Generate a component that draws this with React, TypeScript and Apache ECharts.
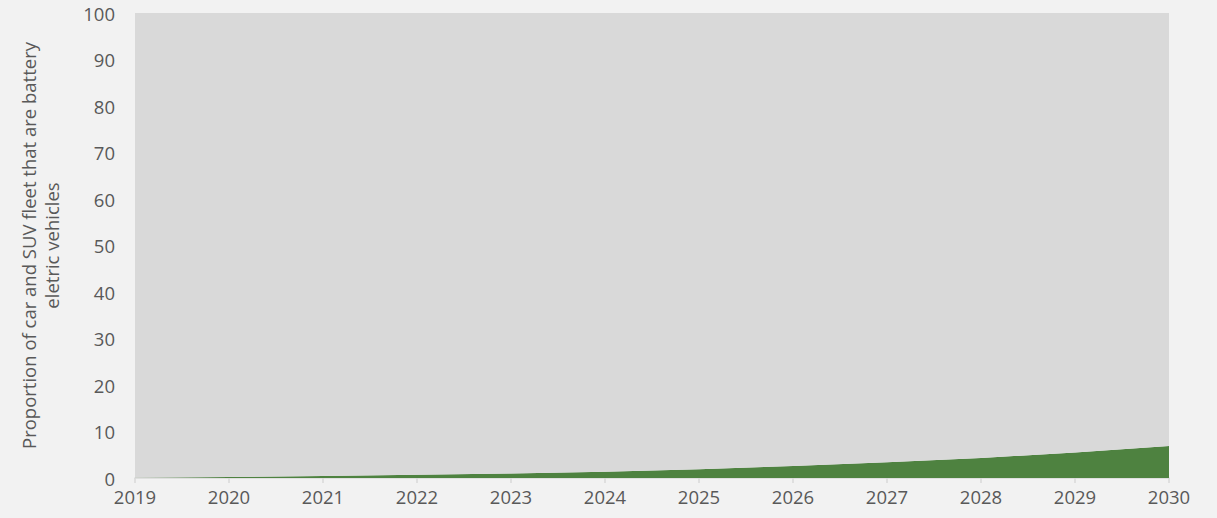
import React, { useEffect, useRef } from "react";
import * as echarts from "echarts";

const years = ["2019", "2020", "2021", "2022", "2023", "2024", "2025", "2026", "2027", "2028", "2029", "2030"];
const bevShare = [0.05, 0.2, 0.45, 0.7, 0.95, 1.35, 1.9, 2.6, 3.4, 4.3, 5.5, 6.9];
const remainder = bevShare.map((v) => +(100 - v).toFixed(2));
const yAxisTitle = "Proportion of car and SUV fleet that are battery\neletric vehicles";

export default function App() {
  const ref = useRef<HTMLDivElement>(null);
  useEffect(() => {
    const chart = echarts.init(ref.current!, null, { renderer: "svg" });
    chart.setOption({
      animation: false,
      backgroundColor: "#f2f2f2",
      textStyle: { fontFamily: "Open Sans" },
      grid: { left: 135, right: 48, top: 13, bottom: 40 },
      xAxis: {
        type: "category",
        data: years,
        boundaryGap: false,
        axisLine: { lineStyle: { color: "#d9d9d9", width: 1.5 } },
        axisTick: { show: true, length: 5, lineStyle: { color: "#d9d9d9", width: 1.5 } },
        axisLabel: { color: "#595959", fontSize: 18.5, margin: 9, fontFamily: "Open Sans" },
        splitLine: { show: false },
      },
      yAxis: {
        type: "value",
        min: 0,
        max: 100,
        interval: 10,
        name: yAxisTitle,
        nameLocation: "middle",
        nameGap: 72,
        nameRotate: 90,
        nameTextStyle: { color: "#595959", fontSize: 18.5, lineHeight: 23, fontFamily: "Open Sans" },
        axisLine: { show: false },
        axisTick: { show: false },
        axisLabel: { color: "#595959", fontSize: 18.5, margin: 20, fontFamily: "Open Sans" },
        splitLine: { show: false },
      },
      series: [
        {
          name: "Battery electric",
          type: "line",
          stack: "total",
          data: bevShare,
          symbol: "none",
          lineStyle: { width: 0 },
          areaStyle: { color: "#4e8240", opacity: 1 },
          itemStyle: { color: "#4e8240" },
        },
        {
          name: "Other",
          type: "line",
          stack: "total",
          data: remainder,
          symbol: "none",
          lineStyle: { width: 0 },
          areaStyle: { color: "#d9d9d9", opacity: 1 },
          itemStyle: { color: "#d9d9d9" },
        },
      ],
    });
    return () => chart.dispose();
  }, []);
  return (
    <div
      ref={ref}
      style={{ position: "absolute", left: 0, top: 0, width: 1217, height: 518 }}
    />
  );
}
